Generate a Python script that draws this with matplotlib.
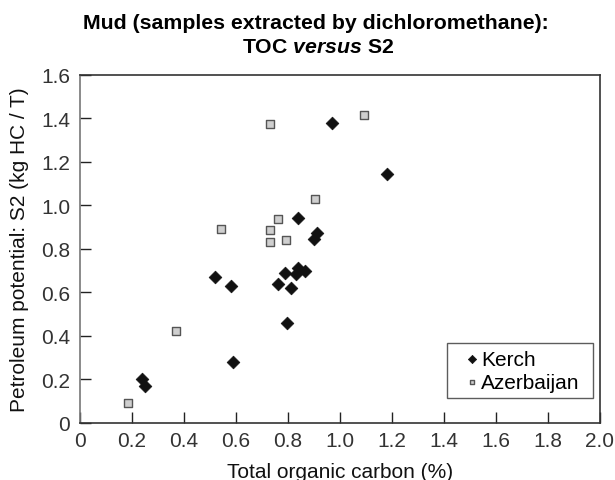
import numpy as np
import matplotlib.pyplot as plt

plt.rcParams['font.family'] = ['Liberation Sans', 'DejaVu Sans']
plt.rcParams['mathtext.fontset'] = 'custom'
plt.rcParams['mathtext.rm'] = 'Liberation Sans:bold'
plt.rcParams['mathtext.bfit'] = 'Liberation Sans:bold:italic'

# Kerch samples (TOC %, S2 kg HC/T)
kerch_toc = [0.97, 0.84, 0.91, 0.90, 0.52, 0.58, 0.76, 0.79, 0.84, 0.83, 0.865,
             0.81, 0.795, 0.59, 0.237, 0.25, 1.18]
kerch_s2 = [1.378, 0.941, 0.871, 0.847, 0.670, 0.628, 0.636, 0.690, 0.711, 0.685, 0.698,
            0.619, 0.458, 0.278, 0.201, 0.170, 1.144]

# Azerbaijan samples
azer_toc = [0.732, 1.091, 0.903, 0.762, 0.542, 0.731, 0.731, 0.794, 0.368, 0.183]
azer_s2 = [1.376, 1.416, 1.027, 0.939, 0.890, 0.887, 0.830, 0.839, 0.419, 0.090]

xticks = np.arange(0, 2.01, 0.2)
yticks = np.arange(0, 1.61, 0.2)

fig = plt.figure(figsize=(6.15, 4.81), dpi=100)
ax = fig.add_axes([80/615, 1 - 423.5/481, 520/615, 347.5/481])

ax.scatter(kerch_toc, kerch_s2, marker='D', s=42, color='#111111',
           edgecolors='#111111', linewidths=0.5, label='Kerch', zorder=3)
ax.scatter(azer_toc, azer_s2, marker='s', s=28, color='#cfcfcf',
           edgecolors='#555555', linewidths=1.0, label='Azerbaijan', zorder=3)

ax.set_xlim(0, 2.0)
ax.set_ylim(0, 1.6)
ax.set_xticks(xticks)
ax.set_xticklabels(['0'] + ['%.1f' % t for t in xticks[1:]])
ax.set_yticks(yticks)
ax.set_yticklabels(['0'] + ['%.1f' % t for t in yticks[1:]])
ax.tick_params(direction='in', length=8, width=1, labelsize=15, colors='#222222',
               labelcolor='#333333')
ax.tick_params(axis='x', pad=6)
ax.tick_params(axis='y', pad=7)
for s in ax.spines.values():
    s.set_linewidth(1.2)
    s.set_color('#333333')
ax.spines['left'].set_color('#777777')

ax.set_xlabel('Total organic carbon (%)', fontsize=15, labelpad=9, color='#111111')
ax.set_ylabel('Petroleum potential: S2 (kg HC / T)', fontsize=15, labelpad=9,
              color='#111111')

# legend box stretched to the width seen in the reference
leg = ax.legend(loc='lower left', bbox_to_anchor=(0.705, 0.0705, 0.281, 0.17),
                mode='expand', borderaxespad=0, fontsize=15, frameon=True,
                fancybox=False, edgecolor='#333333', handletextpad=-0.45,
                borderpad=0.3, labelspacing=0.2, markerscale=0.65,
                handlelength=1.8)
leg.get_frame().set_linewidth(1.0)

fig.text(316/615, 1 - 23.5/481, 'Mud (samples extracted by dichloromethane):',
         ha='center', va='center', fontsize=15.3, fontweight='bold')
fig.text(318/615, 1 - 47.5/481, r'TOC $\mathbfit{versus}$ S2',
         ha='center', va='center', fontsize=15.3, fontweight='bold')

fig.savefig('out.png', dpi=100)
